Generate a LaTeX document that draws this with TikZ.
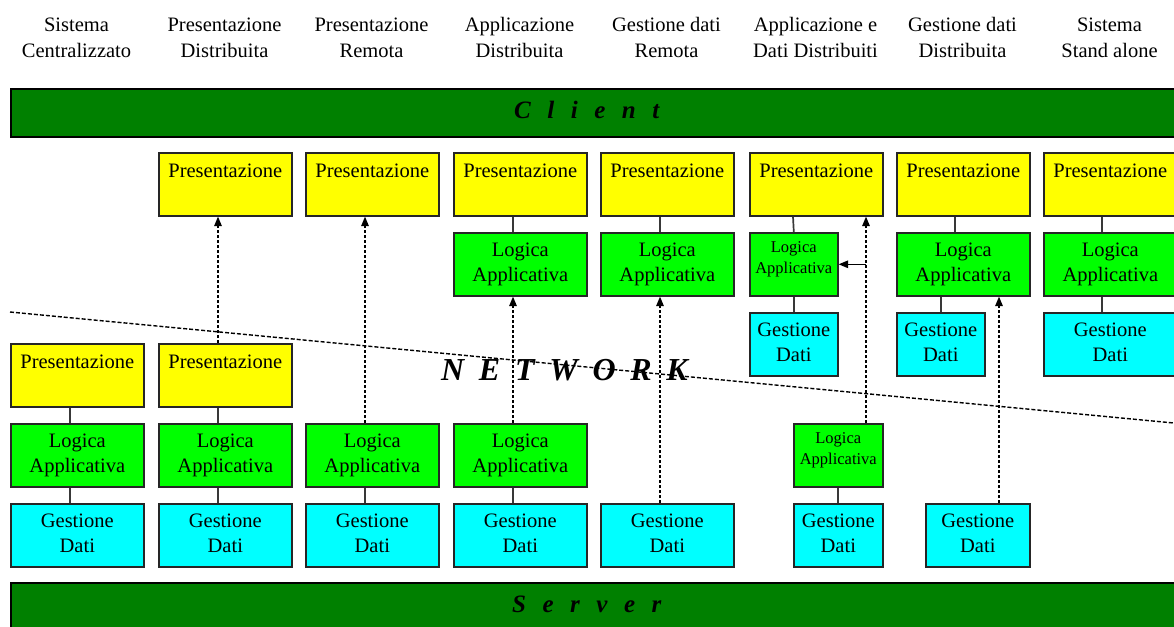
\documentclass[tikz,border=0pt]{standalone}
\usepackage{fontspec}
\setmainfont{Liberation Serif}
\newfontfamily\barfont[LetterSpace=66]{Liberation Serif}
\newfontfamily\netfont[LetterSpace=46]{Liberation Serif}
\usetikzlibrary{arrows.meta,calc}
\definecolor{bargreen}{HTML}{008000}
\definecolor{presy}{HTML}{FFFF00}
\definecolor{logg}{HTML}{00FF00}
\definecolor{datc}{HTML}{00FFFF}
\definecolor{edge}{HTML}{262626}
% two-line header with fixed line heights
\newcommand\hd[2]{\rule{0pt}{15pt}#1\\#2\rule[-5pt]{0pt}{5pt}}
% tier labels
\newcommand\gd{Gestione\\Dati\rule[-4pt]{0pt}{4pt}}
\newcommand\la{Logica\\Applicativa}
\newcommand\las{Logica\\Applicativa\rule[-13.5pt]{0pt}{13.5pt}}
\tikzset{
  head/.style={align=center, inner sep=0pt, font=\fontsize{20.5}{25}\selectfont},
  box/.style={draw=edge, line width=1.6pt, inner sep=0pt, align=center,
    anchor=north west, minimum height=63pt, minimum width=133pt,
    font=\fontsize{20.5}{25}\selectfont},
  pres/.style={box, fill=presy, text height=25pt, text depth=38pt},
  logic/.style={box, fill=logg},
  data/.style={box, fill=datc},
  small/.style={font=\fontsize{16.5}{21}\selectfont},
  bar/.style={draw=black, line width=2.2pt, fill=bargreen, inner sep=0pt,
    anchor=north west, minimum width=1180pt},
  bartext/.style={anchor=base west, inner sep=0pt,
    font=\barfont\bfseries\itshape\fontsize{25}{30}\selectfont},
  link/.style={draw=black!78, line width=1.7pt},
  flow/.style={draw=black, line width=1.4pt, dash pattern=on 3pt off 2pt,
    -{Triangle[length=9.5pt,width=7.5pt]}},
  push/.style={draw=black, line width=1.4pt, -{Triangle[length=9.5pt,width=7.5pt]}},
}
\begin{document}
\begin{tikzpicture}[x=1pt,y=-1pt]
\useasboundingbox (0,0) rectangle (1174,626);

% column headers
\node[head] (h1) at (76.5,39.5)  {\hd{Sistema}{Centralizzato}};
\node[head] (h2) at (224.5,39.5) {\hd{Presentazione}{Distribuita}};
\node[head] (h3) at (371.5,39.5) {\hd{Presentazione}{Remota}};
\node[head] (h4) at (519.5,39.5) {\hd{Applicazione}{Distribuita}};
\node[head] (h5) at (666.5,39.5) {\hd{Gestione dati}{Remota}};
\node[head] (h6) at (815.5,39.5) {\hd{Applicazione e}{Dati Distribuiti}};
\node[head] (h7) at (962.5,39.5) {\hd{Gestione dati}{Distribuita}};
\node[head] (h8) at (1109.5,39.5){\hd{Sistema}{Stand alone}};

% client and server bands
\node[bar, minimum height=48pt] (client) at (10,88) {};
\node[bartext] (clientlbl) at (514,118) {Client};
\node[bar, minimum height=60pt] (server) at (10,582) {};
\node[bartext] (serverlbl) at (512,612) {Server};

% network boundary
\coordinate (n1) at (10,312);
\coordinate (n2) at (1180,423.6);
\draw[black, line width=1.4pt, dash pattern=on 4pt off 2pt] (n1) -- (n2);
\node[anchor=base west, inner sep=0pt,
  font=\netfont\bfseries\itshape\fontsize{32}{36}\selectfont] (net) at (441,380) {NETWORK};

% client side tiers
\node[pres] (p2) at (158,152) {Presentazione};
\node[pres] (p3) at (305,152) {Presentazione};
\node[pres] (p4) at (453,152) {Presentazione};
\node[pres] (p5) at (600,152) {Presentazione};
\node[pres] (p6) at (749,152) {Presentazione};
\node[pres] (p7) at (896,152) {Presentazione};
\node[pres] (p8) at (1043,152) {Presentazione};

\node[logic] (l4) at (453,232) {\la};
\node[logic] (l5) at (600,232) {\la};
\node[logic, small, minimum width=88pt] (l6) at (749,232) {\las};
\node[logic] (l7) at (896,232) {\la};
\node[logic] (l8) at (1043,232) {\la};

\node[data, minimum width=88pt] (g6) at (749,312) {\gd};
\node[data, minimum width=88pt] (g7) at (896,312) {\gd};
\node[data] (g8) at (1043,312) {\gd};

% server side tiers
\node[pres] (q1) at (10,343)  {Presentazione};
\node[pres] (q2) at (158,343) {Presentazione};

\node[logic] (m1) at (10,423)  {\la};
\node[logic] (m2) at (158,423) {\la};
\node[logic] (m3) at (305,423) {\la};
\node[logic] (m4) at (453,423) {\la};
\node[logic, small, minimum width=89pt] (m6) at (793,423) {\las};

\node[data] (d1) at (10,503)  {\gd};
\node[data] (d2) at (158,503) {\gd};
\node[data] (d3) at (305,503) {\gd};
\node[data] (d4) at (453,503) {\gd};
\node[data] (d5) at (600,503) {\gd};
\node[data, minimum width=89pt] (d6) at (793,503) {\gd};
\node[data, minimum width=104pt] (d7) at (925,503) {\gd};

% local links between tiers
\draw[link] ([xshift=60pt]q1.south west) -- ([xshift=60pt]m1.north west);
\draw[link] ([xshift=60pt]m1.south west) -- ([xshift=60pt]d1.north west);
\draw[link] ([xshift=60pt]q2.south west) -- ([xshift=60pt]m2.north west);
\draw[link] ([xshift=60pt]m2.south west) -- ([xshift=60pt]d2.north west);
\draw[link] ([xshift=60pt]m3.south west) -- ([xshift=60pt]d3.north west);
\draw[link] ([xshift=60pt]p4.south west) -- ([xshift=60pt]l4.north west);
\draw[link] ([xshift=60pt]m4.south west) -- ([xshift=60pt]d4.north west);
\draw[link] ([xshift=60pt]p5.south west) -- ([xshift=60pt]l5.north west);
\draw[link] ([xshift=44pt]p6.south west) -- (l6.north);
\draw[link] (l6.south) -- (g6.north);
\draw[link] (m6.south) -- (d6.north);
\draw[link] ([xshift=59pt]p7.south west) -- ([xshift=59pt]l7.north west);
\draw[link] (g7.north) -- (g7.north |- l7.south);
\draw[link] ([xshift=59pt]p8.south west) -- ([xshift=59pt]l8.north west);
\draw[link] ([xshift=59pt]l8.south west) -- ([xshift=59pt]g8.north west);

% links across the network
\draw[flow] ([xshift=60pt]q2.north west) -- ([xshift=60pt]p2.south west);
\draw[flow] ([xshift=60pt]m3.north west) -- ([xshift=60pt]p3.south west);
\draw[flow] ([xshift=60pt]m4.north west) -- ([xshift=60pt]l4.south west);
\draw[flow] ([xshift=60pt]d5.north west) -- ([xshift=60pt]l5.south west);
\draw[flow] ([xshift=73pt]m6.north west) coordinate (c6) -- (c6 |- p6.south);
\draw[push] (c6 |- l6.east) -- (l6.east);
\draw[flow] ([xshift=74pt]d7.north west) coordinate (c7) -- (c7 |- l7.south);
\end{tikzpicture}
\end{document}
